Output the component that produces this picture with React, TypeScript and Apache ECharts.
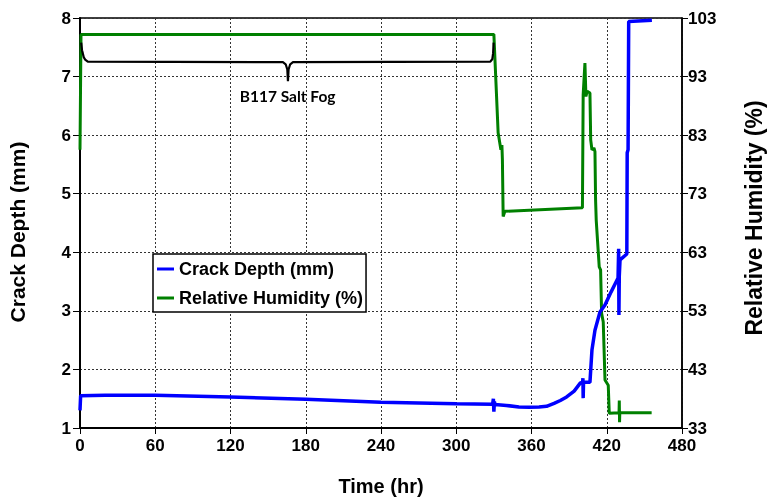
import React, { useEffect, useRef } from "react";
import * as echarts from "echarts";

// ---- Data ----
const xTicks = [0, 60, 120, 180, 240, 300, 360, 420, 480];
const depthTicks = [1, 2, 3, 4, 5, 6, 7, 8];
const rhTicks = [33, 43, 53, 63, 73, 83, 93, 103];

// Crack depth (mm) vs time (hr)
const crackTime = [
  0, 0.5, 20, 60, 120, 180, 240, 300, 329, 329.6, 330, 330.4, 331, 340, 350, 358, 366, 372,
  378, 383, 388, 394, 399, 400.8, 401, 401.2, 401.5, 406.6, 408.2, 410.6, 414.6, 418.6,
  423.4, 429, 429.5, 429.7, 430, 430.6, 436, 436.3, 437, 437.5, 456,
];
const crackDepth = [
  1.3, 1.55, 1.56, 1.56, 1.53, 1.49, 1.44, 1.415, 1.405, 1.5, 1.28, 1.45, 1.4, 1.385, 1.36,
  1.355, 1.36, 1.37, 1.42, 1.47, 1.53, 1.63, 1.77, 1.78, 1.85, 1.51, 1.78, 1.78, 2.33, 2.67,
  2.98, 3.1, 3.32, 3.56, 4.06, 2.93, 3.6, 3.87, 3.97, 5.7, 5.75, 7.94, 7.96,
];

// Relative humidity (%) vs time (hr)
const rhTime = [
  0, 0.8, 330, 333.4, 335.6, 336.4, 336.8, 337.4, 338.8, 400.6, 401.2, 402.6, 403.4, 404.4,
  406.6, 407.2, 408.2, 409.8, 410.6, 411.1, 411.6, 414.0, 415.1, 415.9, 417.2, 418.6, 421.2,
  422.0, 429.8, 430, 430.2, 430.4, 455.8,
];
const rhValue = [
  80.5, 100.2, 100.2, 83.4, 80.5, 81.3, 78.8, 69.1, 70.0, 70.6, 89.9, 95.3, 89.6, 90.5, 90.2,
  82.2, 80.5, 80.8, 80.2, 71.9, 68.5, 60.5, 60.0, 52.6, 51.1, 41.2, 40.3, 35.5, 35.6, 37.7,
  34.0, 35.6, 35.6,
];

// Brace annotation (time hr, depth mm)
const braceTime = [
  0.96, 1.6, 2.2, 3, 4.1, 6.2, 161.8, 164, 165.3, 165.8, 166.3, 167.6, 169.8, 327.2, 328.8,
  329.4, 329.8,
];
const braceDepth = [
  7.58, 7.45, 7.4, 7.33, 7.29, 7.255, 7.245, 7.21, 7.12, 6.92, 7.12, 7.21, 7.245, 7.255, 7.3,
  7.4, 7.58,
];
const braceLabel = "B117 Salt Fog";
const braceLabelPos = [165.5, 6.66];

const zip = (a: number[], b: number[]) => a.map((t, i) => [t, b[i]]);

export default function App() {
  const ref = useRef<HTMLDivElement>(null);
  useEffect(() => {
    const chart = echarts.init(ref.current!, null, { renderer: "svg" });
    const sans = "'Liberation Sans', Arial, sans-serif";
    const gridLine = { show: true, lineStyle: { color: "#333", width: 1, type: [2, 2] } };
    const labelStyle = {
      color: "#000",
      fontFamily: sans,
      fontWeight: "bold",
      fontSize: 17,
    };
    chart.setOption({
      animation: false,
      grid: {
        left: 80,
        right: 85,
        top: 18,
        bottom: 70,
        show: true,
        borderColor: "#000",
        borderWidth: 1.5,
        outerBoundsMode: "none",
      },
      xAxis: {
        type: "value",
        min: xTicks[0],
        max: xTicks[xTicks.length - 1],
        interval: xTicks[1] - xTicks[0],
        axisLine: { show: true, lineStyle: { color: "#000", width: 2 } },
        axisTick: { show: true, length: 6, lineStyle: { color: "#000", width: 1 } },
        axisLabel: { ...labelStyle, margin: 9 },
        splitLine: gridLine,
        name: "Time (hr)",
        nameLocation: "middle",
        nameGap: 48,
        nameTextStyle: { color: "#000", fontFamily: sans, fontWeight: "bold", fontSize: 20 },
      },
      yAxis: [
        {
          type: "value",
          position: "left",
          min: depthTicks[0],
          max: depthTicks[depthTicks.length - 1],
          interval: depthTicks[1] - depthTicks[0],
          axisLine: { show: true, lineStyle: { color: "#000", width: 2 } },
          axisTick: { show: true, length: 7, lineStyle: { color: "#000", width: 1 } },
          axisLabel: { ...labelStyle, margin: 9 },
          splitLine: gridLine,
          name: "Crack Depth (mm)",
          nameLocation: "middle",
          nameRotate: 90,
          nameGap: 52,
          nameTextStyle: {
            color: "#000",
            fontFamily: sans,
            fontWeight: "bold",
            fontSize: 21,
            padding: [0, 18, 0, 0],
          },
        },
        {
          type: "value",
          position: "right",
          min: rhTicks[0],
          max: rhTicks[rhTicks.length - 1],
          interval: rhTicks[1] - rhTicks[0],
          axisLine: { show: true, lineStyle: { color: "#000", width: 1.5 } },
          axisTick: { show: true, length: 6, lineStyle: { color: "#000", width: 1 } },
          axisLabel: { ...labelStyle, margin: 6 },
          splitLine: { show: false },
          name: "Relative Humidity (%)",
          nameLocation: "middle",
          nameRotate: 90,
          nameGap: 60,
          nameTextStyle: {
            color: "#000",
            fontFamily: sans,
            fontWeight: "bold",
            fontSize: 23,
            padding: [0, 0, 0, 10],
          },
        },
      ],
      legend: {
        show: true,
        orient: "vertical",
        left: 153,
        top: 254,
        icon: "rect",
        itemWidth: 17,
        itemHeight: 3,
        itemGap: 9,
        padding: [5, 3, 4, 4],
        borderColor: "#000",
        borderWidth: 1.5,
        borderRadius: 0,
        backgroundColor: "#fff",
        textStyle: {
          color: "#000",
          fontFamily: sans,
          fontWeight: "bold",
          fontSize: 18,
          lineHeight: 20,
        },
        data: ["Crack Depth (mm)", "Relative Humidity (%)"],
      },
      series: [
        {
          name: "Relative Humidity (%)",
          type: "line",
          yAxisIndex: 1,
          data: zip(rhTime, rhValue),
          showSymbol: false,
          symbol: "none",
          color: "#008000",
          lineStyle: { color: "#008000", width: 3 },
          z: 2,
        },
        {
          name: "Crack Depth (mm)",
          type: "line",
          yAxisIndex: 0,
          data: zip(crackTime, crackDepth),
          showSymbol: false,
          symbol: "none",
          color: "#0000ff",
          lineStyle: { color: "#0000ff", width: 3.5 },
          z: 3,
        },
        {
          name: "brace",
          type: "line",
          yAxisIndex: 0,
          data: zip(braceTime, braceDepth),
          showSymbol: false,
          symbol: "none",
          silent: true,
          color: "#000",
          lineStyle: { color: "#000", width: 2.2 },
          z: 4,
        },
      ],
    });
    const p = chart.convertToPixel({ xAxisIndex: 0, yAxisIndex: 0 }, braceLabelPos) as number[];
    chart.setOption({
      graphic: [
        {
          type: "text",
          x: p[0],
          y: p[1],
          z: 10,
          style: {
            text: braceLabel,
            fill: "#000",
            font: "bold 15.5px Lato, 'Liberation Sans', sans-serif",
            align: "center",
            verticalAlign: "middle",
          },
        },
      ],
    });
    return () => chart.dispose();
  }, []);
  return (
    <div
      ref={ref}
      style={{ position: "fixed", left: 0, top: 0, width: 767, height: 498 }}
    />
  );
}
